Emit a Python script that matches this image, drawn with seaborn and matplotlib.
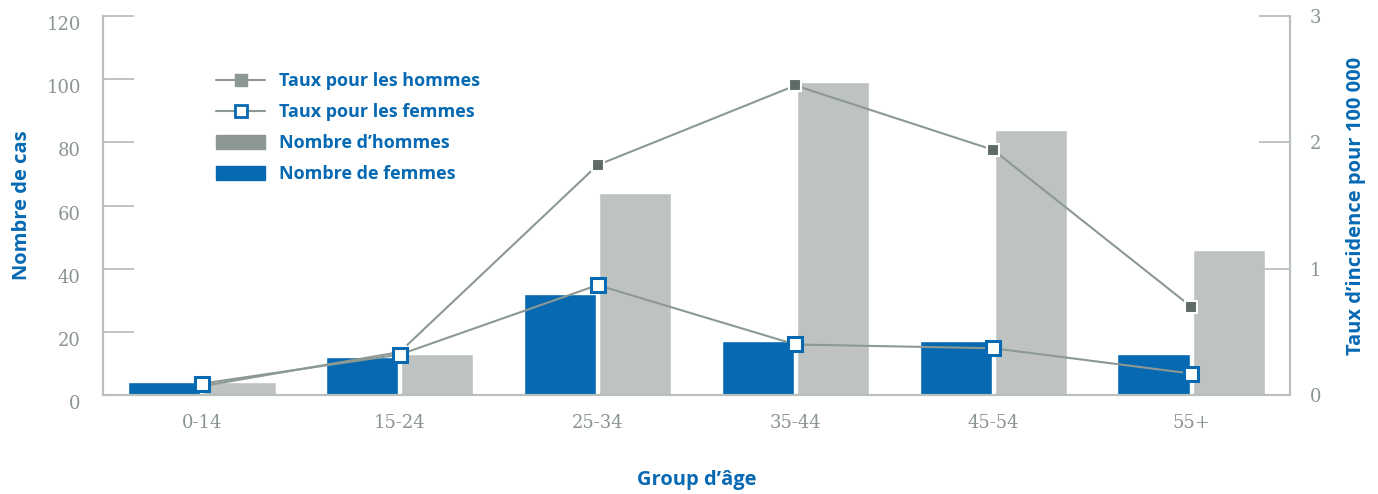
import matplotlib
matplotlib.use("Agg")
import matplotlib.pyplot as plt
import matplotlib.transforms as mtransforms
from matplotlib.lines import Line2D
from matplotlib.patches import Patch
import numpy as np
import pandas as pd
import seaborn as sns

# data
groups = ["0-14", "15-24", "25-34", "35-44", "45-54", "55+"]
nb_femmes = [4, 12, 32, 17, 17, 13]
nb_hommes = [4, 13, 64, 99, 84, 46]
taux_hommes = [0.07, 0.34, 1.82, 2.45, 1.94, 0.70]
taux_femmes = [0.09, 0.32, 0.87, 0.40, 0.37, 0.17]

BLUE = "#0669b2"
BAR_GRAY = "#bec3c1"
LEG_GRAY = "#8e9893"
LINE_GRAY = "#8c9993"
MARK_GRAY = "#5f6b66"
AXIS_GRAY = "#b8bfbc"
TICK_TXT = "#8a9590"

sns.set_style("white")
serif = ["DejaVu Serif"]
sans = ["Open Sans", "DejaVu Sans"]

df = pd.DataFrame({
    "group": groups * 2,
    "cas": nb_femmes + nb_hommes,
    "serie": ["Nombre de femmes"] * len(groups) + ["Nombre d’hommes"] * len(groups),
})

fig = plt.figure(figsize=(13.78, 4.94), dpi=100)
ax = fig.add_axes([103 / 1378, 1 - 395 / 494, (1290 - 103) / 1378, (395 - 16) / 494])

sns.barplot(data=df, x="group", y="cas", hue="serie",
            hue_order=["Nombre de femmes", "Nombre d’hommes"],
            palette=[BLUE, BAR_GRAY], width=0.76, gap=0.04,
            saturation=1, legend=False, ax=ax, order=groups)

ax.set_xlim(-0.5, len(groups) - 0.5)
ax.set_ylim(0, 120)
ax.set_yticks(np.arange(0, 121, 20))

ax2 = ax.twinx()
x = np.arange(len(groups))
ax2.plot(x, taux_hommes, color=LINE_GRAY, lw=1.5, marker="s", ms=9,
         mfc=MARK_GRAY, mec="white", mew=1.5, zorder=3)
ax2.plot(x, taux_femmes, color=LINE_GRAY, lw=1.5, marker="s", ms=10,
         mfc="white", mec=BLUE, mew=2.2, zorder=4)
ax2.set_ylim(0, 3)
ax2.set_yticks([0, 1, 2, 3])

for a in (ax, ax2):
    for s in a.spines.values():
        s.set_color(AXIS_GRAY)
        s.set_linewidth(1.5)
    a.spines["top"].set_visible(False)

ax.tick_params(axis="y", direction="in", length=22, width=1.3, color=AXIS_GRAY,
               labelsize=13, labelcolor=TICK_TXT, pad=16)
ax2.tick_params(axis="y", direction="in", length=22, width=1.3, color=AXIS_GRAY,
                labelsize=13, labelcolor=TICK_TXT, pad=14)
ax.tick_params(axis="x", which="major", length=0, labelsize=13,
               labelcolor=TICK_TXT, pad=14)
ax.set_xticks(np.arange(len(groups) - 1) + 0.5, minor=True)
ax.tick_params(axis="x", which="minor", direction="in", length=6,
               width=1.2, color=AXIS_GRAY)

for lab in ax.get_xticklabels() + ax.get_yticklabels() + ax2.get_yticklabels():
    lab.set_family(serif)
# left labels sit a bit lower than their ticks in the reference
shift = mtransforms.ScaledTranslation(0, -7 / 100, fig.dpi_scale_trans)
for lab in ax.get_yticklabels():
    lab.set_transform(lab.get_transform() + shift)

ax.set_xlabel("Group d’âge", family=sans, weight="bold", size=14.5,
              color=BLUE, labelpad=27)
ax.set_ylabel("Nombre de cas", family=sans, weight="bold", size=14.5,
              color=BLUE, labelpad=10)
ax2.set_ylabel("Taux d’incidence pour 100 000", family=sans, weight="bold",
               size=14.5, color=BLUE, labelpad=18)

handles = [
    Line2D([], [], color=LINE_GRAY, lw=1.5, marker="s", ms=9,
           mfc=LEG_GRAY, mec=LEG_GRAY),
    Line2D([], [], color=LINE_GRAY, lw=1.5, marker="s", ms=9,
           mfc="white", mec=BLUE, mew=2),
    Patch(color=LEG_GRAY),
    Patch(color=BLUE),
]
labels = ["Taux pour les hommes", "Taux pour les femmes",
          "Nombre d’hommes", "Nombre de femmes"]
leg = fig.legend(handles, labels, loc="upper left",
                 bbox_to_anchor=(200 / 1378, 1 - 56 / 494),
                 frameon=False, handlelength=2.7, handleheight=0.8,
                 handletextpad=0.8, labelspacing=0.72,
                 prop={"family": sans, "weight": "bold", "size": 13})
for t in leg.get_texts():
    t.set_color(BLUE)

fig.savefig("out.png", dpi=100)
